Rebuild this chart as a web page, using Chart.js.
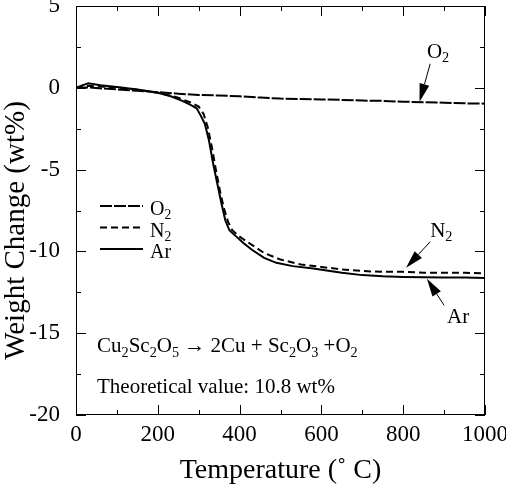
<!DOCTYPE html>
<html>
<head>
<meta charset="utf-8">
<script src="https://cdn.jsdelivr.net/npm/chart.js@4"></script>
<style>
  html, body { margin: 0; padding: 0; background: #fff; }
  canvas { display: block; }
</style>
</head>
<body>
<canvas id="tga" width="506" height="491"></canvas>
<script>
(function () {
    "use strict";

    // Data
    const o2Temp = [0, 30, 100, 150, 200, 250, 300, 350, 400, 450, 500, 550, 600, 650, 700, 750, 800, 850, 900, 950, 1000];
    const o2Weight = [0, 0.02, -0.1, -0.18, -0.27, -0.36, -0.44, -0.47, -0.52, -0.6, -0.66, -0.69, -0.71, -0.74, -0.78, -0.8, -0.85, -0.88, -0.91, -0.95, -0.97];

    const n2Temp = [0, 30, 100, 150, 200, 250, 280, 300, 312, 322, 332, 342, 352, 362, 372, 382, 400, 430, 460, 500, 550, 600, 650, 700, 750, 800, 850, 900, 950, 1000];
    const n2Weight = [0, 0.12, 0.02, -0.12, -0.3, -0.6, -0.9, -1.15, -1.6, -2.4, -3.6, -5.0, -6.3, -7.4, -8.2, -8.7, -9.1, -9.6, -10.1, -10.5, -10.8, -10.95, -11.1, -11.2, -11.25, -11.25, -11.3, -11.3, -11.3, -11.35];

    const arTemp = [0, 15, 30, 60, 100, 150, 200, 230, 260, 280, 295, 305, 315, 325, 335, 345, 355, 365, 375, 390, 410, 430, 460, 490, 530, 580, 650, 700, 750, 800, 850, 900, 950, 1000];
    const arWeight = [0, 0.15, 0.28, 0.15, 0.05, -0.1, -0.3, -0.5, -0.8, -1.05, -1.25, -1.7, -2.2, -3.2, -4.6, -5.8, -7.0, -8.1, -8.7, -9.05, -9.5, -9.9, -10.4, -10.7, -10.9, -11.05, -11.3, -11.45, -11.52, -11.56, -11.58, -11.6, -11.6, -11.62];

    const seriesLabels = ["O_2", "N_2", "Ar"];
    const xTicks = [0, 200, 400, 600, 800, 1000];
    const yTicks = [-20, -15, -10, -5, 0, 5];

    const serif = "'Liberation Serif', 'Times New Roman', Times, serif";

    const toPoints = (xs, ys) => xs.map((t, i) => ({ x: t, y: ys[i] }));

    // label text + arrow, in data units
    const callouts = [
        { text: "O_2", tx: 858, ty: 1.83, x0: 866, y0: 1.47, x1: 840, y1: -0.85 },
        { text: "N_2", tx: 866, ty: -9.11, x0: 866, y0: -9.41, x1: 807, y1: -11.0 },
        { text: "Ar", tx: 907, ty: -14.36, x0: 900, y0: -13.3, x1: 858, y1: -11.67 },
    ];

    // text with "_c" meaning subscript c
    function drawRich(ctx, str, x, y, size) {
        let cx = x;
        for (let i = 0; i < str.length; i++) {
            let ch = str[i];
            let sub = false;
            if (ch === "_" && i + 1 < str.length) {
                sub = true;
                ch = str[++i];
            }
            const sz = sub ? size * 0.68 : size;
            ctx.font = sz + "px " + serif;
            ctx.fillText(ch, cx, sub ? y + size * 0.22 : y);
            cx += ctx.measureText(ch).width;
        }
    }

    const framePlugin = {
        id: "frame",
        afterDraw(chart) {
            const { ctx, chartArea: a, scales } = chart;
            const xs = scales.x, ys = scales.y;
            ctx.save();
            ctx.strokeStyle = "#000";
            ctx.fillStyle = "#000";
            ctx.lineWidth = 1;
            ctx.strokeRect(a.left + 0.5, a.top + 0.5, a.right - a.left - 1, a.bottom - a.top - 1);

            // inward ticks on all sides
            ctx.beginPath();
            for (let v = 0; v <= 1000; v += 100) {
                const len = v % 200 === 0 ? 10 : 5;
                const px = Math.round(xs.getPixelForValue(v)) + 0.5;
                ctx.moveTo(px, a.bottom); ctx.lineTo(px, a.bottom - len);
                ctx.moveTo(px, a.top); ctx.lineTo(px, a.top + len);
            }
            for (let v = -20; v <= 5; v += 2.5) {
                const len = v % 5 === 0 ? 10 : 5;
                const py = Math.round(ys.getPixelForValue(v)) + 0.5;
                ctx.moveTo(a.left, py); ctx.lineTo(a.left + len, py);
                ctx.moveTo(a.right, py); ctx.lineTo(a.right - len, py);
            }
            ctx.stroke();

            // y axis title, a little below the axis centre as in the original
            ctx.save();
            ctx.translate(24, (a.top + a.bottom) / 2 + 20);
            ctx.rotate(-Math.PI / 2);
            ctx.textAlign = "center";
            ctx.textBaseline = "alphabetic";
            ctx.font = "29px " + serif;
            ctx.fillText("Weight Change (wt%)", 0, 0);
            ctx.restore();

            // legend
            ctx.textBaseline = "alphabetic";
            ctx.textAlign = "left";
            chart.data.datasets.forEach((ds, i) => {
                const ly = a.top + 200 + i * 21.5;
                ctx.beginPath();
                ctx.setLineDash(ds.borderDash || []);
                ctx.lineWidth = 2;
                ctx.moveTo(a.left + 24, ly);
                ctx.lineTo(a.left + 67, ly);
                ctx.stroke();
                ctx.setLineDash([]);
                drawRich(ctx, seriesLabels[i], a.left + 74, ly + 9, 20);
            });

            // reaction + theoretical value
            drawRich(ctx, "Cu_2Sc_2O_5 \u2192 2Cu + Sc_2O_3 +O_2", a.left + 21, a.top + 346, 21);
            drawRich(ctx, "Theoretical value: 10.8 wt%", a.left + 21, a.top + 387, 21);

            // callouts with arrows
            callouts.forEach((c) => {
                drawRich(ctx, c.text, xs.getPixelForValue(c.tx), ys.getPixelForValue(c.ty), 21);
                const x0 = xs.getPixelForValue(c.x0), y0 = ys.getPixelForValue(c.y0);
                const x1 = xs.getPixelForValue(c.x1), y1 = ys.getPixelForValue(c.y1);
                const ang = Math.atan2(y1 - y0, x1 - x0);
                const headLen = 18, headW = 5;
                const bx = x1 - headLen * Math.cos(ang), by = y1 - headLen * Math.sin(ang);
                ctx.beginPath();
                ctx.lineWidth = 1;
                ctx.moveTo(x0, y0);
                ctx.lineTo(bx, by);
                ctx.stroke();
                ctx.beginPath();
                ctx.moveTo(x1, y1);
                ctx.lineTo(bx + headW * Math.sin(ang), by - headW * Math.cos(ang));
                ctx.lineTo(bx - headW * Math.sin(ang), by + headW * Math.cos(ang));
                ctx.closePath();
                ctx.fill();
            });
            ctx.restore();
        },
    };

    const ctx = document.getElementById("tga").getContext("2d");

    new Chart(ctx, {
        type: "line",
        data: {
            datasets: [
                {
                    label: "O2",
                    data: toPoints(o2Temp, o2Weight),
                    borderColor: "#000",
                    borderWidth: 2,
                    borderDash: [12, 2],
                },
                {
                    label: "N2",
                    data: toPoints(n2Temp, n2Weight),
                    borderColor: "#000",
                    borderWidth: 2,
                    borderDash: [7, 4],
                },
                {
                    label: "Ar",
                    data: toPoints(arTemp, arWeight),
                    borderColor: "#000",
                    borderWidth: 2,
                },
            ],
        },
        options: {
            responsive: false,
            animation: false,
            parsing: false,
            elements: {
                point: { radius: 0 },
                line: { tension: 0, fill: false },
            },
            layout: {
                padding: { top: 6, right: 21, left: 0, bottom: 0 },
            },
            plugins: {
                legend: { display: false },
                tooltip: { enabled: false },
            },
            scales: {
                x: {
                    type: "linear",
                    min: 0,
                    max: 1000,
                    afterBuildTicks: (s) => { s.ticks = xTicks.map((v) => ({ value: v })); },
                    afterFit: (s) => { s.height = 76; s.paddingLeft = 0; s.paddingRight = 0; },
                    grid: { display: false },
                    border: { display: false },
                    ticks: {
                        color: "#000",
                        padding: -2,
                        maxRotation: 0,
                        font: { family: serif, size: 23 },
                        callback: (v) => String(v),
                    },
                    title: {
                        display: true,
                        text: "Temperature (\u02DA C)",
                        color: "#000",
                        font: { family: serif, size: 28 },
                        padding: { top: 0, bottom: 4 },
                    },
                },
                y: {
                    type: "linear",
                    min: -20,
                    max: 5,
                    afterBuildTicks: (s) => { s.ticks = yTicks.map((v) => ({ value: v })); },
                    afterFit: (s) => { s.width = 76; s.paddingTop = 0; s.paddingBottom = 0; },
                    grid: { display: false },
                    border: { display: false },
                    ticks: {
                        color: "#000",
                        padding: 8,
                        font: { family: serif, size: 23 },
                        callback: (v) => String(v),
                    },
                    title: { display: false },
                },
            },
        },
        plugins: [framePlugin],
    });
})();
</script>
</body>
</html>
